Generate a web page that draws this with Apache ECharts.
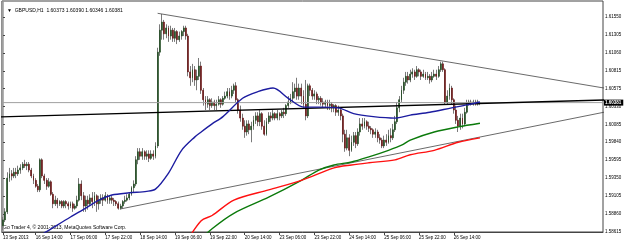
<!DOCTYPE html>
<html>
<head>
<meta charset="utf-8">
<script src="https://cdn.jsdelivr.net/npm/echarts@6/dist/echarts.min.js"></script>
<style>
  html, body { margin: 0; padding: 0; background: #fff; }
  #chart { width: 625px; height: 243px; }
</style>
</head>
<body>
<div id="chart"></div>
<script>
// GBPUSD H1, one row per bar: [open, close, low, high]
const candles = [
  [1.5870,1.5878,1.5864,1.5882],[1.5878,1.5889,1.5875,1.5894],[1.5889,1.5935,1.5886,1.5943],[1.5935,1.5941,1.5930,1.5949],
  [1.5941,1.5938,1.5932,1.5946],[1.5938,1.5943,1.5935,1.5949],[1.5943,1.5941,1.5935,1.5949],[1.5941,1.5946,1.5938,1.5952],
  [1.5946,1.5949,1.5941,1.5954],[1.5949,1.5954,1.5946,1.5957],[1.5954,1.5952,1.5949,1.5960],[1.5952,1.5954,1.5946,1.5957],
  [1.5954,1.5946,1.5943,1.5957],[1.5946,1.5938,1.5935,1.5949],[1.5938,1.5932,1.5927,1.5941],[1.5932,1.5924,1.5922,1.5935],
  [1.5924,1.5919,1.5916,1.5927],[1.5919,1.5960,1.5916,1.5962],[1.5960,1.5938,1.5935,1.5962],[1.5938,1.5932,1.5927,1.5941],
  [1.5932,1.5924,1.5919,1.5935],[1.5924,1.5930,1.5922,1.5935],[1.5930,1.5913,1.5911,1.5932],[1.5913,1.5900,1.5894,1.5916],
  [1.5900,1.5905,1.5897,1.5911],[1.5905,1.5900,1.5894,1.5908],[1.5900,1.5903,1.5897,1.5905],[1.5903,1.5897,1.5894,1.5905],
  [1.5897,1.5903,1.5894,1.5905],[1.5903,1.5900,1.5894,1.5905],[1.5900,1.5897,1.5892,1.5903],[1.5897,1.5900,1.5894,1.5903],
  [1.5900,1.5894,1.5889,1.5903],[1.5894,1.5897,1.5892,1.5900],[1.5897,1.5905,1.5894,1.5911],[1.5905,1.5927,1.5903,1.5935],
  [1.5927,1.5911,1.5905,1.5932],[1.5911,1.5897,1.5889,1.5916],[1.5897,1.5905,1.5889,1.5911],[1.5905,1.5900,1.5892,1.5911],
  [1.5900,1.5908,1.5897,1.5913],[1.5908,1.5903,1.5894,1.5916],[1.5903,1.5911,1.5897,1.5916],[1.5911,1.5900,1.5889,1.5913],
  [1.5900,1.5905,1.5892,1.5911],[1.5905,1.5908,1.5900,1.5913],[1.5908,1.5905,1.5897,1.5913],[1.5905,1.5911,1.5903,1.5916],
  [1.5911,1.5905,1.5900,1.5913],[1.5905,1.5908,1.5900,1.5911],[1.5908,1.5905,1.5900,1.5911],[1.5905,1.5903,1.5897,1.5908],
  [1.5903,1.5900,1.5897,1.5905],[1.5900,1.5894,1.5892,1.5903],[1.5894,1.5897,1.5892,1.5900],[1.5897,1.5903,1.5894,1.5905],
  [1.5903,1.5905,1.5900,1.5911],[1.5905,1.5908,1.5903,1.5913],[1.5908,1.5913,1.5905,1.5916],[1.5913,1.5922,1.5911,1.5924],
  [1.5922,1.5927,1.5916,1.5932],[1.5927,1.5960,1.5924,1.5965],[1.5960,1.5971,1.5954,1.5976],[1.5971,1.5965,1.5960,1.5976],
  [1.5965,1.5971,1.5960,1.5976],[1.5971,1.5965,1.5960,1.5973],[1.5965,1.5968,1.5960,1.5973],[1.5968,1.5962,1.5957,1.5973],
  [1.5962,1.5968,1.5960,1.5973],[1.5968,1.5965,1.5960,1.5973],[1.5965,1.5979,1.5962,1.5984],[1.5979,1.6107,1.5976,1.6113],
  [1.6107,1.6137,1.6102,1.6145],[1.6137,1.6148,1.6124,1.6159],[1.6148,1.6132,1.6124,1.6151],[1.6132,1.6140,1.6126,1.6145],
  [1.6140,1.6129,1.6121,1.6143],[1.6129,1.6137,1.6124,1.6143],[1.6137,1.6126,1.6121,1.6140],[1.6126,1.6135,1.6121,1.6140],
  [1.6135,1.6124,1.6118,1.6137],[1.6124,1.6129,1.6121,1.6135],[1.6129,1.6135,1.6124,1.6137],[1.6135,1.6140,1.6129,1.6143],
  [1.6140,1.6129,1.6124,1.6143],[1.6129,1.6080,1.6074,1.6132],[1.6080,1.6072,1.6061,1.6088],[1.6072,1.6083,1.6066,1.6091],
  [1.6083,1.6069,1.6061,1.6088],[1.6069,1.6074,1.6055,1.6083],[1.6074,1.6088,1.6069,1.6099],[1.6088,1.6055,1.6050,1.6094],
  [1.6055,1.6042,1.6034,1.6058],[1.6042,1.6036,1.6028,1.6047],[1.6036,1.6042,1.6031,1.6047],[1.6042,1.6034,1.6028,1.6044],
  [1.6034,1.6039,1.6031,1.6044],[1.6039,1.6034,1.6028,1.6042],[1.6034,1.6036,1.6028,1.6042],[1.6036,1.6042,1.6034,1.6047],
  [1.6042,1.6036,1.6031,1.6044],[1.6036,1.6044,1.6034,1.6047],[1.6044,1.6047,1.6042,1.6053],[1.6047,1.6053,1.6044,1.6058],
  [1.6053,1.6047,1.6042,1.6058],[1.6047,1.6055,1.6044,1.6061],[1.6055,1.6061,1.6050,1.6064],[1.6061,1.6042,1.6039,1.6066],
  [1.6042,1.6028,1.6023,1.6044],[1.6028,1.6017,1.6012,1.6034],[1.6017,1.6006,1.6001,1.6023],[1.6006,1.5998,1.5990,1.6014],
  [1.5998,1.6009,1.5993,1.6014],[1.6009,1.6001,1.5995,1.6014],[1.6001,1.6006,1.5984,1.6012],[1.6006,1.6014,1.6001,1.6020],
  [1.6014,1.6020,1.6009,1.6025],[1.6020,1.6012,1.6006,1.6025],[1.6012,1.6023,1.6006,1.6028],[1.6023,1.6006,1.6001,1.6025],
  [1.6006,1.5995,1.5993,1.6014],[1.5995,1.6012,1.5993,1.6017],[1.6012,1.6020,1.6009,1.6025],[1.6020,1.6017,1.6012,1.6025],
  [1.6017,1.6023,1.6014,1.6028],[1.6023,1.6017,1.6014,1.6025],[1.6017,1.6023,1.6014,1.6028],[1.6023,1.6020,1.6014,1.6025],
  [1.6020,1.6025,1.6017,1.6028],[1.6025,1.6023,1.6017,1.6031],[1.6023,1.6034,1.6020,1.6036],[1.6034,1.6039,1.6031,1.6047],
  [1.6039,1.6044,1.6036,1.6050],[1.6044,1.6053,1.6039,1.6066],[1.6053,1.6058,1.6044,1.6064],[1.6058,1.6047,1.6042,1.6072],
  [1.6047,1.6058,1.6042,1.6064],[1.6058,1.6047,1.6036,1.6064],[1.6047,1.6036,1.6031,1.6055],[1.6036,1.6020,1.6014,1.6069],
  [1.6020,1.6061,1.6017,1.6064],[1.6061,1.6055,1.6047,1.6064],[1.6055,1.6047,1.6042,1.6058],[1.6047,1.6050,1.6042,1.6055],
  [1.6050,1.6042,1.6036,1.6053],[1.6042,1.6044,1.6036,1.6047],[1.6044,1.6039,1.6034,1.6047],[1.6039,1.6036,1.6031,1.6044],
  [1.6036,1.6039,1.6031,1.6042],[1.6039,1.6034,1.6028,1.6042],[1.6034,1.6036,1.6028,1.6042],[1.6036,1.6031,1.6025,1.6039],
  [1.6031,1.6034,1.6025,1.6036],[1.6034,1.6025,1.6020,1.6036],[1.6025,1.6028,1.6020,1.6034],[1.6028,1.6020,1.6014,1.6031],
  [1.6020,1.5995,1.5984,1.6023],[1.5995,1.5976,1.5971,1.6001],[1.5976,1.5990,1.5973,1.6001],[1.5990,1.5973,1.5965,1.5995],
  [1.5973,1.5984,1.5971,1.5993],[1.5984,1.5993,1.5979,1.5998],[1.5993,1.5982,1.5976,1.5998],[1.5982,1.5998,1.5979,1.6003],
  [1.5998,1.6009,1.5993,1.6017],[1.6009,1.6006,1.6001,1.6017],[1.6006,1.6012,1.6003,1.6017],[1.6012,1.6006,1.6001,1.6014],
  [1.6006,1.6003,1.5998,1.6012],[1.6003,1.6001,1.5995,1.6006],[1.6001,1.5995,1.5990,1.6003],[1.5995,1.5998,1.5990,1.6003],
  [1.5998,1.5990,1.5984,1.6001],[1.5990,1.5987,1.5982,1.5995],[1.5987,1.5979,1.5976,1.5990],[1.5979,1.5987,1.5976,1.5993],
  [1.5987,1.5984,1.5979,1.5995],[1.5984,1.5993,1.5982,1.6001],[1.5993,1.5990,1.5984,1.6003],[1.5990,1.6001,1.5987,1.6009],
  [1.6001,1.6012,1.5998,1.6020],[1.6012,1.6031,1.6009,1.6039],[1.6031,1.6042,1.6025,1.6047],[1.6042,1.6055,1.6039,1.6061],
  [1.6055,1.6066,1.6050,1.6072],[1.6066,1.6074,1.6061,1.6080],[1.6074,1.6069,1.6064,1.6080],[1.6069,1.6077,1.6066,1.6083],
  [1.6077,1.6080,1.6072,1.6085],[1.6080,1.6074,1.6069,1.6083],[1.6074,1.6083,1.6072,1.6088],[1.6083,1.6080,1.6074,1.6085],
  [1.6080,1.6074,1.6069,1.6083],[1.6074,1.6077,1.6072,1.6083],[1.6077,1.6072,1.6069,1.6080],[1.6072,1.6074,1.6069,1.6080],
  [1.6074,1.6069,1.6064,1.6077],[1.6069,1.6074,1.6066,1.6080],[1.6074,1.6077,1.6072,1.6083],[1.6077,1.6074,1.6069,1.6083],
  [1.6074,1.6083,1.6072,1.6088],[1.6083,1.6091,1.6080,1.6094],[1.6091,1.6083,1.6080,1.6094],[1.6083,1.6039,1.6036,1.6085],
  [1.6039,1.6047,1.6036,1.6055],[1.6047,1.6058,1.6042,1.6064],[1.6058,1.6042,1.6036,1.6061],[1.6042,1.6028,1.6023,1.6044],
  [1.6028,1.6014,1.6009,1.6034],[1.6014,1.6006,1.5998,1.6020],[1.6006,1.6017,1.6001,1.6023],[1.6017,1.6009,1.6003,1.6023],
  [1.6009,1.6025,1.6006,1.6031],[1.6025,1.6036,1.6023,1.6042],[1.6036,1.6039,1.6034,1.6042],[1.6039,1.6036,1.6034,1.6042],
  [1.6036,1.6039,1.6034,1.6042],[1.6039,1.6036,1.6034,1.6042],[1.6036,1.6039,1.6034,1.6042],[1.60373,1.60381,1.60346,1.60390]
]

// moving averages: [bar, price]
const maBlue = [[16,1.5855],[20,1.5862],[31,1.5882],[38,1.5894],[44,1.5905],[50,1.5912],[58,1.5915],[66,1.5917],[70,1.5920],
  [76,1.5942],[82,1.5973],[88,1.5991],[91,1.5998],[96,1.6009],[101,1.6019],[110,1.6044],[117,1.6053],[124,1.6058],
  [131,1.6044],[138,1.6032],[146,1.6032],[154,1.6031],[161,1.6023],[170,1.6019],[180,1.6017],[187,1.6021],[196,1.6025],
  [206,1.6031],[213,1.6035],[219,1.6039]]
const maGreen = [[89,1.5847],[96,1.5866],[106,1.5887],[122,1.5909],[137,1.5932],[145,1.5946],[152,1.5953],[160,1.5957],
  [168,1.5964],[177,1.5973],[183,1.5980],[187,1.5987],[198,1.5998],[209,1.6005],[219,1.6010]]
const maRed = [[84,1.5847],[91,1.5877],[96,1.5884],[106,1.5905],[122,1.5919],[137,1.5932],[152,1.5949],[160,1.5953],
  [168,1.5956],[180,1.5960],[187,1.5967],[198,1.5973],[209,1.5984],[219,1.5990]]

// trend lines drawn on the chart
const trendUpper = [[71,1.6160],[276,1.6058]]
const trendLower = [[54,1.5893],[276,1.6025]]
const trendFlat = [[-1,1.60185],[276,1.60417]]
const bid = 1.60381

// axes
const yTicks = [1.61550,1.61305,1.61060,1.60815,1.60575,1.60330,1.60085,1.59840,1.59595,1.59350,1.59105,1.58860,1.58615]
const xTickIdx = [0,15,31,47,63,79,95,111,127,143,159,175,191,207]
const xTickText = ['13 Sep 2013','16 Sep 14:00','17 Sep 06:00','17 Sep 22:00','18 Sep 14:00','19 Sep 06:00','19 Sep 22:00',
  '20 Sep 14:00','23 Sep 06:00','23 Sep 22:00','24 Sep 14:00','25 Sep 06:00','25 Sep 22:00','26 Sep 14:00']

const font = 'Liberation Sans'
const xMin = -0.5
const xMax = 275.5
const chart = echarts.init(document.getElementById('chart'), null, { renderer: 'canvas' })

// 蜡烛实体（不含影线）
const bodies = candles.map((d, i) => [i, d[0], d[1], Math.min(d[0], d[1]), Math.max(d[0], d[1])])
const bars = candles.map((d, i) => [i, d[0], d[1], d[2], d[3]])

const trend = (data, color, width) => ({
  type: 'line', data, symbol: 'none', silent: true, animation: false,
  lineStyle: { color, width },
})

chart.setOption({
  animation: false,
  backgroundColor: '#fff',
  title: {
    text: '▼  GBPUSD,H1  1.60373 1.60390 1.60346 1.60381',
    left: 2, top: 3,
    textStyle: { fontFamily: font, fontSize: 5, fontWeight: 'normal', color: '#000' },
  },
  graphic: [{
    type: 'text', left: 3, top: 225, silent: true,
    style: { text: 'Go Trader 4, © 2001-2013, MetaQuotes Software Corp.', fontFamily: font, fontSize: 5, fill: '#000' },
  }],
  grid: { left: 0, right: 22, top: 1, bottom: 11, show: true, borderColor: '#444', borderWidth: 1 },
  xAxis: {
    type: 'value', min: xMin, max: xMax,
    splitLine: { show: false },
    axisLine: { show: true, lineStyle: { color: '#444' } },
    axisTick: { show: true, customValues: xTickIdx, length: 3, lineStyle: { color: '#444' } },
    axisLabel: {
      customValues: xTickIdx, margin: 3, align: 'left',
      fontFamily: font, fontSize: 4.5, color: '#000',
      formatter: (v) => xTickText[xTickIdx.indexOf(Math.round(v))] || '',
    },
  },
  yAxis: {
    type: 'value', position: 'right', min: 1.58615, max: 1.61768,
    splitLine: { show: false },
    axisLine: { show: true, lineStyle: { color: '#999', width: 1.5 } },
    axisTick: { show: true, customValues: yTicks, length: 2, lineStyle: { color: '#444' } },
    axisLabel: {
      customValues: yTicks, margin: 2,
      fontFamily: font, fontSize: 4.5, color: '#000',
      formatter: (v) => v.toFixed(5),
    },
  },
  series: [
    // 现价线
    {
      ...trend([[xMin, bid], [xMax, bid]], '#a0a0a0', 1),
      endLabel: {
        show: true, distance: 1,
        formatter: () => bid.toFixed(5),
        backgroundColor: '#000', color: '#fff', padding: [1, 2, 0, 1],
        fontFamily: font, fontSize: 4.5, fontWeight: 'bold',
      },
    },
    trend(trendUpper, '#444', 0.8),
    trend(trendLower, '#444', 0.8),
    trend(trendFlat, '#000', 1.3),
    {
      type: 'candlestick', data: bars, encode: { x: 0, y: [1, 2, 3, 4] },
      barWidth: 0.6, silent: true,
      itemStyle: { color: '#8a8a8a', color0: '#8a8a8a', borderColor: '#7a7a7a', borderColor0: '#7a7a7a', borderWidth: 1 },
    },
    {
      type: 'candlestick', data: bodies, encode: { x: 0, y: [1, 2, 3, 4] },
      barWidth: 1.4, silent: true,
      itemStyle: { color: '#1f4a1f', color0: '#6a1414', borderColor: '#1f4a1f', borderColor0: '#6a1414', borderWidth: 0.6 },
    },
    { ...trend(maBlue, '#1c1ca0', 1.4), smooth: 0.3 },
    { ...trend(maGreen, '#0b7a0b', 1.4), smooth: 0.3 },
    { ...trend(maRed, '#ff1010', 1.4), smooth: 0.3 },
  ],
})
</script>
</body>
</html>
